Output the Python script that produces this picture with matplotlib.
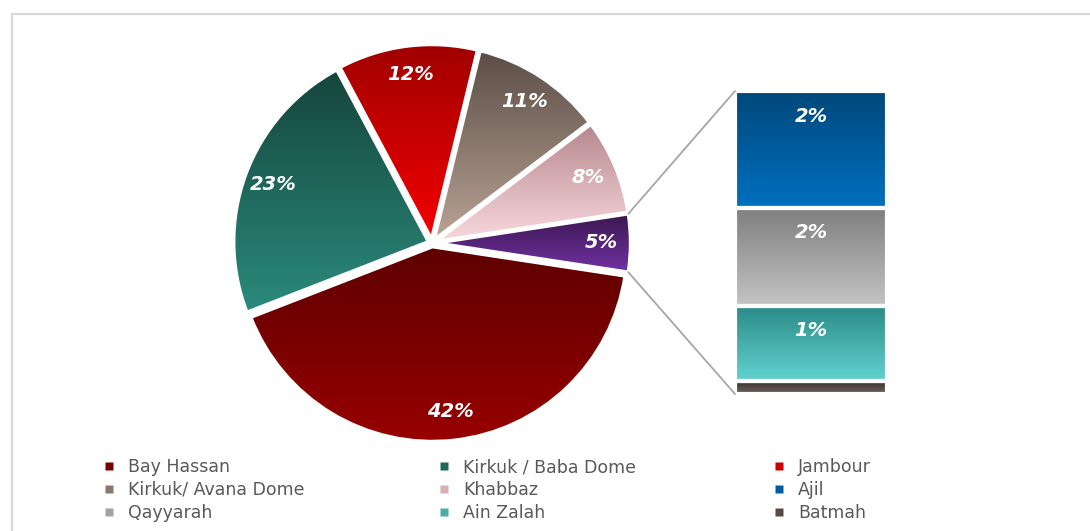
import matplotlib
matplotlib.use("Agg")
import matplotlib.pyplot as plt
import numpy as np
from matplotlib.colors import to_rgb
from matplotlib.lines import Line2D
from matplotlib.patches import ConnectionPatch, Rectangle

W, H = 1090, 531

# fields shown as pie slices (% of total)
pie_names = ["Bay Hassan", "Kirkuk / Baba Dome", "Jambour", "Kirkuk/ Avana Dome", "Khabbaz"]
pie_values = [41.7, 23.1, 11.6, 10.9, 7.9]
pie_top = ["#5e0000", "#15453c", "#a00000", "#5b4d46", "#b7878f"]
pie_bottom = ["#980000", "#2b8a7c", "#f40000", "#b9a395", "#f9dade"]

# small fields grouped into the last slice and broken out in the bar
bar_names = ["Ajil", "Qayyarah", "Ain Zalah", "Batmah"]
bar_values = [1.85, 1.55, 1.2, 0.2]
bar_top = ["#00487a", "#7f7f7f", "#2a8a86", "#3b312d"]
bar_bottom = ["#0070c0", "#c4c4c4", "#62d2cf", "#6e625c"]

other_top, other_bottom = "#3b174f", "#7131a3"

label_style = dict(color="white", fontsize=14, fontweight="bold", fontstyle="italic")


def mix(c1, c2, t=0.5):
    return tuple((1 - t) * np.array(to_rgb(c1)) + t * np.array(to_rgb(c2)))


def fill_gradient(ax, patch, top, bottom):
    # vertical gradient over the patch's extent, clipped to its outline
    ext = patch.get_path().get_extents(patch.get_patch_transform())
    t = np.linspace(0, 1, 256)[:, None]
    rgb = (1 - t) * np.array(to_rgb(top)) + t * np.array(to_rgb(bottom))
    img = ax.imshow(rgb[:, None, :], extent=[ext.x0, ext.x1, ext.y0, ext.y1],
                    origin="upper", aspect="auto", interpolation="bilinear", zorder=2)
    img.set_clip_path(patch)


fig = plt.figure(figsize=(W / 100, H / 100), dpi=100)

# pie
pax = fig.add_axes([(432 - 220) / W, (H - 243 - 220) / H, 440 / W, 440 / H])
values = pie_values + [sum(bar_values)]
wedges, _, pcts = pax.pie(
    values, startangle=-values[-1] * 3.6 / 2, counterclock=False,
    radius=0.975, explode=[0.018] * len(values), colors=["none"] * len(values),
    autopct=lambda p: f"{p:.0f}%", pctdistance=0.85,
    wedgeprops=dict(edgecolor="white", linewidth=2.6), textprops=label_style)
for w, top, bot in zip(wedges, pie_top + [other_top], pie_bottom + [other_bottom]):
    w.set_zorder(3)
    fill_gradient(pax, w, top, bot)
for t in pcts:
    t.set_zorder(5)
pax.set_xlim(-1.1, 1.1)
pax.set_ylim(-1.1, 1.1)
pax.set_aspect("equal")
pax.axis("off")

# bar of the grouped slice, stacked bottom-up
bax = fig.add_axes([735 / W, (H - 394) / H, 152 / W, 303 / H])
bottom = 0.0
for name, v, top, bot in reversed(list(zip(bar_names, bar_values, bar_top, bar_bottom))):
    rect = bax.bar(0.5, v, width=1, bottom=bottom, facecolor="none",
                   edgecolor="white", linewidth=3, zorder=3)[0]
    fill_gradient(bax, rect, top, bot)
    if round(v) >= 1:
        bax.annotate(f"{v:.0f}%", xy=(0.5, bottom + v), xytext=(0, -18),
                     textcoords="offset points", ha="center", va="center",
                     zorder=5, **label_style)
    bottom += v
bax.set_xlim(0, 1)
bax.set_ylim(0, sum(bar_values))
bax.axis("off")

# connector lines from the grouped slice to the bar
ow = wedges[-1]
cx, cy = ow.center
for ang, yb in [(ow.theta2, 1), (ow.theta1, 0)]:
    a = np.radians(ang)
    con = ConnectionPatch(xyA=(cx + ow.r * np.cos(a), cy + ow.r * np.sin(a)), coordsA=pax.transData,
                          xyB=(0, yb), coordsB=bax.transAxes, color="#a6a6a6", linewidth=1.3)
    fig.add_artist(con)

# legend, row-major over three columns
names = pie_names + bar_names
swatches = [mix(a, b) for a, b in zip(pie_top + bar_top, pie_bottom + bar_bottom)]
for col, x in enumerate([100, 435, 770]):
    idx = range(col, len(names), 3)
    handles = [Line2D([], [], marker="s", linestyle="none", markersize=5.2,
                      markerfacecolor=swatches[i], markeredgecolor="none") for i in idx]
    leg = fig.legend(handles, [names[i] for i in idx], loc="upper left",
                     bbox_to_anchor=(x / W, 1 - 458 / H), frameon=False,
                     fontsize=12.5, labelcolor="#595959", handlelength=1.0,
                     handletextpad=0.6, labelspacing=0.28, borderpad=0, borderaxespad=0)

# chart border
fig.add_artist(Rectangle((12 / W, -0.05), 1.1, 1 - 14 / H + 0.05, transform=fig.transFigure,
                         fill=False, edgecolor="#d9d9d9", linewidth=1.6))

fig.savefig("out.png", dpi=100)
